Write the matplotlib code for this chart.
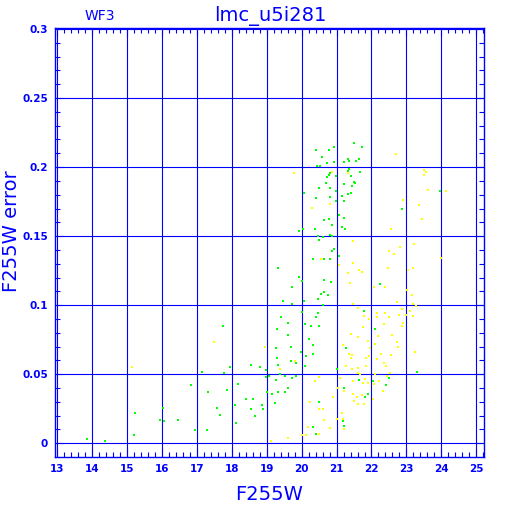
import matplotlib
matplotlib.use('Agg')
import matplotlib.pyplot as plt
from matplotlib.ticker import MultipleLocator, FuncFormatter

# green sample (F255W, F255W error)
green_mag = [21.50, 21.72, 20.92, 20.40, 20.77, 20.59, 21.33, 21.36, 21.63, 21.55,
             21.20, 20.92, 20.72, 20.44, 20.52, 21.35, 21.33, 21.68, 20.81, 20.77,
             20.99, 21.42, 20.72, 21.49, 21.52, 20.69, 21.20, 21.44, 20.50, 20.81,
             20.06, 20.98, 21.40, 21.33, 21.15, 20.41, 20.81, 20.98, 21.20, 22.87,
             21.06, 21.20, 20.65, 20.77, 20.87, 20.03, 20.37, 21.15, 21.23, 20.81,
             20.87, 20.47, 20.49, 20.62, 20.92, 20.86, 21.06, 20.33, 20.64, 20.81,
             20.63, 20.83, 20.01, 22.23, 19.92, 19.31, 19.91, 19.72, 20.54, 20.64,
             20.75, 20.47, 19.46, 20.07, 19.72, 20.61, 20.48, 20.01, 21.78, 20.42,
             19.40, 19.61, 20.09, 20.26, 20.50, 22.09, 19.30, 19.61, 20.22, 20.32,
             19.69, 19.26, 21.26, 19.99, 20.32, 20.12, 19.28, 19.70, 19.83, 18.55,
             18.80, 19.31, 20.10, 17.95, 18.98, 21.01, 23.31, 19.05, 18.98, 19.26,
             19.38, 19.52, 19.72, 19.84, 21.63, 22.03, 22.49, 22.41, 18.18, 19.62,
             21.20, 19.01, 19.15, 19.32, 19.51, 21.90, 21.82, 18.40, 18.60, 19.23,
             20.49, 18.08, 18.86, 18.54, 18.89, 18.65, 21.17, 18.12, 21.20, 20.33,
             20.41, 17.74, 17.15, 17.77, 16.84, 17.32, 17.85, 16.03, 17.56, 17.66,
             15.21, 15.94, 16.05, 16.46, 16.95, 17.28, 15.19, 13.84, 14.37, 23.96]
green_err = [0.2175, 0.2148, 0.2148, 0.2124, 0.2124, 0.2075, 0.2059, 0.2044, 0.2059, 0.2044,
             0.2037, 0.2037, 0.2028, 0.2008, 0.2008, 0.1984, 0.1970, 0.1965, 0.1959, 0.1945,
             0.1938, 0.1938, 0.1930, 0.1892, 0.1885, 0.1885, 0.1878, 0.1863, 0.1846, 0.1846,
             0.1815, 0.1829, 0.1815, 0.1807, 0.1794, 0.1776, 0.1786, 0.1757, 0.1757, 0.1697,
             0.1653, 0.1631, 0.1619, 0.1624, 0.1581, 0.1554, 0.1554, 0.1566, 0.1554, 0.1511,
             0.1501, 0.1501, 0.1472, 0.1496, 0.1405, 0.1392, 0.1354, 0.1337, 0.1337, 0.1337,
             0.1182, 0.1168, 0.1173, 0.1156, 0.1534, 0.1272, 0.1206, 0.1130, 0.1081, 0.1093,
             0.1072, 0.1043, 0.1030, 0.1030, 0.1009, 0.1001, 0.0946, 0.0951, 0.0958, 0.0912,
             0.0912, 0.0873, 0.0862, 0.0849, 0.0849, 0.0828, 0.0828, 0.0784, 0.0753, 0.0712,
             0.0699, 0.0690, 0.0690, 0.0661, 0.0647, 0.0632, 0.0618, 0.0598, 0.0581, 0.0567,
             0.0550, 0.0565, 0.0560, 0.0550, 0.0531, 0.0540, 0.0516, 0.0490, 0.0480, 0.0461,
             0.0500, 0.0485, 0.0471, 0.0490, 0.0461, 0.0451, 0.0471, 0.0419, 0.0429, 0.0403,
             0.0400, 0.0371, 0.0357, 0.0371, 0.0371, 0.0357, 0.0337, 0.0323, 0.0323, 0.0290,
             0.0299, 0.0277, 0.0277, 0.0251, 0.0251, 0.0198, 0.0158, 0.0149, 0.0127, 0.0120,
             0.0070, 0.0849, 0.0516, 0.0509, 0.0420, 0.0371, 0.0386, 0.0256, 0.0256, 0.0205,
             0.0219, 0.0169, 0.0159, 0.0169, 0.0096, 0.0096, 0.0062, 0.0029, 0.0019, 0.1829]

# yellow sample
yellow_mag = [22.70, 20.87, 21.34, 22.89, 20.30, 20.81, 22.55, 21.46, 22.82, 22.51,
              22.64, 20.55, 21.46, 21.06, 22.46, 21.63, 21.73, 21.33, 23.05, 21.38,
              19.78, 19.72, 22.07, 22.38, 23.01, 23.16, 22.74, 23.18, 23.28, 21.46,
              21.61, 22.87, 23.10, 21.79, 21.92, 22.15, 22.39, 22.15, 22.49, 22.78,
              23.00, 23.18, 22.89, 22.87, 22.36, 21.75, 21.40, 21.61, 22.19, 22.58,
              21.90, 22.72, 22.09, 21.19, 22.76, 21.96, 23.24, 21.35, 21.44, 21.40,
              21.84, 21.94, 22.15, 22.26, 22.55, 22.37, 22.41, 21.27, 21.44, 21.84,
              21.61, 22.53, 18.96, 19.38, 19.82, 21.61, 21.67, 22.09, 22.44, 21.10,
              20.49, 20.37, 21.48, 21.82, 21.77, 21.90, 22.07, 22.21, 22.32, 21.04,
              21.21, 21.46, 21.58, 21.73, 22.05, 20.89, 21.50, 21.61, 21.78, 20.24,
              20.49, 20.60, 21.15, 21.00, 20.64, 21.17, 20.18, 20.81, 21.21, 20.01,
              20.12, 20.49, 19.61, 19.11, 17.50, 15.14, 23.50, 23.56, 23.50, 23.62,
              24.14, 23.35, 23.45, 23.22, 23.98, 23.18]
yellow_err = [0.2095, 0.1965, 0.1959, 0.1762, 0.1706, 0.1735, 0.1554, 0.1467, 0.1424, 0.1395,
              0.1371, 0.1337, 0.1308, 0.1293, 0.1272, 0.1257, 0.1240, 0.1233, 0.1257, 0.1163,
              0.1959, 0.1134, 0.1134, 0.1134, 0.1110, 0.1076, 0.1023, 0.1009, 0.0994, 0.1009,
              0.0980, 0.0973, 0.0958, 0.0922, 0.0900, 0.0944, 0.0947, 0.0912, 0.0912, 0.0929,
              0.0931, 0.0922, 0.0873, 0.0852, 0.0862, 0.0844, 0.0791, 0.0772, 0.0777, 0.0784,
              0.0741, 0.0730, 0.0717, 0.0714, 0.0699, 0.0690, 0.0661, 0.0647, 0.0639, 0.0618,
              0.0618, 0.0632, 0.0613, 0.0647, 0.0642, 0.0581, 0.0560, 0.0560, 0.0540, 0.0560,
              0.0547, 0.0511, 0.0699, 0.0540, 0.0598, 0.0507, 0.0500, 0.0500, 0.0487, 0.0473,
              0.0482, 0.0453, 0.0453, 0.0468, 0.0439, 0.0439, 0.0429, 0.0453, 0.0381, 0.0403,
              0.0381, 0.0357, 0.0337, 0.0350, 0.0323, 0.0337, 0.0308, 0.0285, 0.0285, 0.0299,
              0.0251, 0.0251, 0.0222, 0.0178, 0.0169, 0.0174, 0.0120, 0.0109, 0.0106, 0.0062,
              0.0058, 0.0070, 0.0038, 0.0019, 0.0731, 0.0550, 0.1979, 0.1965, 0.1945, 0.1834,
              0.1829, 0.1728, 0.1626, 0.1443, 0.1342, 0.1269]

blue = '#0000ff'

fig = plt.figure(figsize=(5.12, 5.12), dpi=100)
ax = fig.add_axes([0.1074, 0.108, 0.8373, 0.8373])

ax.scatter(yellow_mag, yellow_err, s=3.5, marker='s', c='#ffff00', linewidths=0, zorder=3)
ax.scatter(green_mag, green_err, s=3.5, marker='s', c='#00ff00', linewidths=0, zorder=4)

ax.set_xlim(12.93, 25.215)
ax.set_ylim(-0.0097, 0.3007)

ax.xaxis.set_major_locator(MultipleLocator(1))
ax.xaxis.set_minor_locator(MultipleLocator(0.2))
ax.yaxis.set_major_locator(MultipleLocator(0.05))
ax.yaxis.set_minor_locator(MultipleLocator(0.01))
ax.yaxis.set_major_formatter(FuncFormatter(lambda v, pos: '{:g}'.format(round(v, 3))))

ax.grid(True, which='major', color=blue, lw=0.8, zorder=1)
ax.set_axisbelow(True)

ax.tick_params(axis='both', which='both', direction='in', colors=blue,
               top=True, right=True, width=0.8)
ax.tick_params(axis='both', which='major', length=6)
ax.tick_params(axis='both', which='minor', length=3.5)
ax.tick_params(axis='x', which='major', pad=5, labelsize=7.5)
ax.tick_params(axis='y', which='major', pad=5, labelsize=7.5)
for lab in ax.get_xticklabels() + ax.get_yticklabels():
    lab.set_fontweight('bold')

for sp in ax.spines.values():
    sp.set_color(blue)
    sp.set_linewidth(1.0)

ax.set_xlabel('F255W', color=blue, fontsize=14, labelpad=8)
fig.text(0.022, 0.549, 'F255W error', color=blue, fontsize=14, rotation=90,
         ha='center', va='center')

fig.text(0.527, 0.969, 'lmc_u5i281', color=blue, fontsize=14, ha='center', va='center')
fig.text(0.195, 0.969, 'WF3', color=blue, fontsize=10, ha='center', va='center')

fig.savefig('out.png', dpi=100, facecolor='white')
